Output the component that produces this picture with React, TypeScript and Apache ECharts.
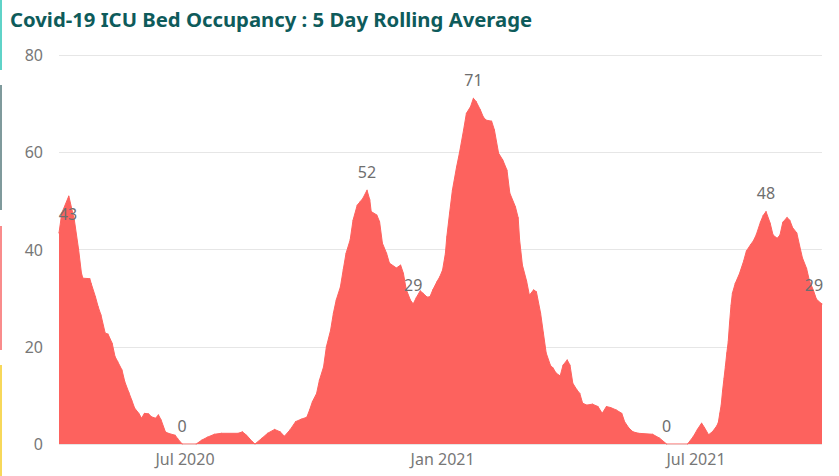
import React, { useEffect, useRef } from "react";
import * as echarts from "echarts";

// 5-day rolling average of ICU beds occupied by Covid-19 patients
const dates: string[] = [
  "2020-04-02", "2020-04-04", "2020-04-09", "2020-04-13", "2020-04-16", "2020-04-18", "2020-04-19",
  "2020-04-24", "2020-04-25", "2020-04-28", "2020-04-30", "2020-05-02", "2020-05-05", "2020-05-07",
  "2020-05-10", "2020-05-12", "2020-05-14", "2020-05-17", "2020-05-19", "2020-05-22", "2020-05-24",
  "2020-05-26", "2020-05-29", "2020-05-31", "2020-06-02", "2020-06-05", "2020-06-07", "2020-06-10",
  "2020-06-12", "2020-06-14", "2020-06-17", "2020-06-19", "2020-06-24", "2020-06-26", "2020-06-29",
  "2020-07-09", "2020-07-13", "2020-07-17", "2020-07-22", "2020-07-27", "2020-08-08", "2020-08-11",
  "2020-08-14", "2020-08-18", "2020-08-20", "2020-08-25", "2020-08-29", "2020-09-03", "2020-09-07",
  "2020-09-10", "2020-09-14", "2020-09-18", "2020-09-22", "2020-09-26", "2020-09-28", "2020-09-30",
  "2020-10-03", "2020-10-05", "2020-10-08", "2020-10-10", "2020-10-13", "2020-10-15", "2020-10-17",
  "2020-10-20", "2020-10-22", "2020-10-24", "2020-10-27", "2020-10-29", "2020-11-01", "2020-11-03",
  "2020-11-05", "2020-11-08", "2020-11-10", "2020-11-11", "2020-11-15", "2020-11-17", "2020-11-19",
  "2020-11-22", "2020-11-24", "2020-11-29", "2020-12-02", "2020-12-04", "2020-12-06", "2020-12-09",
  "2020-12-11", "2020-12-13", "2020-12-16", "2020-12-18", "2020-12-21", "2020-12-23", "2020-12-25",
  "2020-12-28", "2020-12-30", "2021-01-01", "2021-01-03", "2021-01-04", "2021-01-06", "2021-01-08",
  "2021-01-11", "2021-01-13", "2021-01-16", "2021-01-18", "2021-01-21", "2021-01-23", "2021-01-25",
  "2021-01-28", "2021-01-30", "2021-02-01", "2021-02-05", "2021-02-07", "2021-02-10", "2021-02-13",
  "2021-02-16", "2021-02-18", "2021-02-22", "2021-02-24", "2021-02-25", "2021-02-27", "2021-03-02",
  "2021-03-04", "2021-03-07", "2021-03-09", "2021-03-12", "2021-03-14", "2021-03-16", "2021-03-19",
  "2021-03-21", "2021-03-23", "2021-03-26", "2021-03-28", "2021-03-31", "2021-04-02", "2021-04-04",
  "2021-04-07", "2021-04-09", "2021-04-11", "2021-04-14", "2021-04-18", "2021-04-22", "2021-04-25",
  "2021-04-28", "2021-05-01", "2021-05-05", "2021-05-09", "2021-05-11", "2021-05-14", "2021-05-17",
  "2021-05-21", "2021-05-31", "2021-06-05", "2021-06-10", "2021-06-25", "2021-06-29", "2021-07-02",
  "2021-07-05", "2021-07-07", "2021-07-10", "2021-07-13", "2021-07-16", "2021-07-17", "2021-07-18",
  "2021-07-19", "2021-07-20", "2021-07-21", "2021-07-22", "2021-07-23", "2021-07-24", "2021-07-25",
  "2021-07-26", "2021-07-27", "2021-07-29", "2021-08-01", "2021-08-04", "2021-08-06", "2021-08-09",
  "2021-08-11", "2021-08-13", "2021-08-16", "2021-08-18", "2021-08-20", "2021-08-23", "2021-08-25",
  "2021-08-28", "2021-08-30", "2021-09-01", "2021-09-04", "2021-09-06", "2021-09-08", "2021-09-11",
  "2021-09-13", "2021-09-15", "2021-09-18", "2021-09-20", "2021-09-23", "2021-09-25", "2021-09-28",
  "2021-09-29",
];

const icuBeds: number[] = [
  43.4, 47.5, 51, 46, 40, 35.2, 34.1,
  34, 33, 30.3, 28.2, 26.5, 22.8, 22.6,
  20.7, 18, 16.9, 15.2, 12.8, 10.5, 9,
  7.4, 6.3, 5.3, 6.3, 6.2, 5.6, 5.3,
  6, 4.9, 2.5, 2.2, 1.8, 1.0, 0,
  0, 0.8, 1.4, 2, 2.2, 2.2, 2.5,
  1.8, 0.5, 0, 1.2, 2.2, 3, 2.5,
  1.6, 2.9, 4.6, 5.1, 5.5, 7, 8.7,
  10.4, 13.1, 15.9, 20, 23.4, 26.9, 29.6,
  32.3, 35.8, 39.2, 42, 46, 49.1, 49.8,
  50.5, 52.2, 50.2, 47.8, 47.1, 45.7, 41.3,
  39.2, 37.2, 36.2, 36.8, 35.1, 31.8, 29.6,
  28.8, 30, 31.5, 31, 30.2, 30.3, 31.7,
  33.4, 34.4, 35.8, 39.2, 42.6, 47.5, 52.2,
  57, 59.8, 64.6, 68, 69.4, 71.1, 70.4,
  68.7, 67.3, 66.6, 66.4, 64.6, 59.8, 58.4,
  56.3, 51.6, 48.8, 46.5, 42, 36.8, 33.5,
  30.6, 31.7, 31.3, 26.9, 22.8, 18.7, 16.2,
  15.6, 14.6, 14, 16.2, 17.3, 16.2, 12.5,
  11.1, 10.4, 8.4, 8, 8.2, 7.7, 6.3,
  7.7, 7.5, 7, 6.3, 4.6, 3.3, 2.5,
  2.2, 2, 1.2, 0, 0, 1.5, 3,
  4.3, 3.4, 1.9, 2.6, 3.8, 4.5, 6.3,
  8, 11, 13.5, 16, 18.7, 21, 25,
  28.5, 31, 33, 35, 37.6, 39.7, 41,
  41.8, 43, 45.6, 47, 47.8, 45.4, 43,
  42.3, 43, 45.6, 46.6, 46, 44.5, 43.4,
  40.8, 38.3, 36.1, 33.6, 31.5, 29.8, 29,
  28.8,
];

// Dates whose value is printed above the area
const labelledDates: string[] = [
  "2020-04-02", "2020-06-29", "2020-11-08", "2020-12-11",
  "2021-01-23", "2021-06-10", "2021-08-20", "2021-09-29",
];

// Month ticks shown on the date axis
const xTickDates: string[] = ["2020-07-01", "2021-01-01", "2021-07-01"];
const yTicks: number[] = [0, 20, 40, 60, 80];

const MONTHS = ["Jan", "Feb", "Mar", "Apr", "May", "Jun", "Jul", "Aug", "Sep", "Oct", "Nov", "Dec"];
const FONT = "'Noto Sans', 'Open Sans', sans-serif";
const AREA = "#FD625E";

function toTime(s: string): number {
  const [y, m, d] = s.split("-").map(Number);
  return new Date(y, m - 1, d).getTime();
}

export default function App() {
  const ref = useRef<HTMLDivElement>(null);

  useEffect(() => {
    if (!ref.current) return;
    const chart = echarts.init(ref.current, undefined, { renderer: "svg" });

    const lastIdx = dates.length - 1;
    const seriesData = dates.map((d, i) => {
      const item: any = { value: [toTime(d), icuBeds[i]] };
      if (labelledDates.includes(d)) {
        // keep the first and last labels inside the plot
        const offset = i === 0 ? [9, 0] : i === lastIdx ? [-8, 0] : [0, 0];
        item.label = { show: true, offset };
      }
      return item;
    });

    chart.setOption({
      animation: false,
      backgroundColor: "#ffffff",
      title: {
        text: "Covid-19 ICU Bed Occupancy : 5 Day Rolling Average",
        left: 5,
        top: 4,
        textStyle: {
          fontFamily: FONT,
          fontSize: 20.3,
          fontWeight: "bold",
          color: "#0E5B5B",
        },
      },
      graphic: [
        { type: "rect", shape: { x: 0, y: 0, width: 2, height: 70 }, style: { fill: "#5FD3C8" } },
        { type: "rect", shape: { x: 0, y: 85, width: 2, height: 125 }, style: { fill: "#7F9A9C" } },
        { type: "rect", shape: { x: 0, y: 226, width: 2, height: 124 }, style: { fill: "#F98C8C" } },
        { type: "rect", shape: { x: 0, y: 365, width: 2, height: 111 }, style: { fill: "#F7D85A" } },
      ],
      grid: { left: 59, right: 17, top: 55, bottom: 32, containLabel: false },
      xAxis: {
        type: "value",
        min: toTime(dates[0]),
        max: toTime(dates[lastIdx]),
        axisLine: { show: false },
        axisTick: { show: false },
        splitLine: { show: false },
        axisLabel: {
          customValues: xTickDates.map(toTime),
          hideOverlap: false,
          color: "#777777",
          fontFamily: FONT,
          fontSize: 16,
          margin: 7,
          formatter: (v: number) => {
            const d = new Date(v);
            return MONTHS[d.getMonth()] + " " + d.getFullYear();
          },
        },
      },
      yAxis: {
        type: "value",
        min: yTicks[0],
        max: yTicks[yTicks.length - 1],
        interval: 20,
        axisLine: { show: false },
        axisTick: { show: false },
        splitLine: { lineStyle: { color: "#E6E6E6", width: 1 } },
        axisLabel: {
          color: "#777777",
          fontFamily: FONT,
          fontSize: 16,
          margin: 16,
        },
      },
      series: [
        {
          type: "line",
          data: seriesData,
          showSymbol: true,
          showAllSymbol: true,
          symbol: "circle",
          symbolSize: 1,
          itemStyle: { color: AREA },
          lineStyle: { color: AREA, width: 1 },
          areaStyle: { color: AREA, opacity: 1 },
          label: {
            show: false,
            position: "top",
            distance: 10,
            color: "#6E6E6E",
            fontFamily: FONT,
            fontSize: 16,
            formatter: (p: any) => String(Math.round(p.value[1])),
          },
          silent: true,
        },
      ],
    });

    return () => chart.dispose();
  }, []);

  return (
    <div
      ref={ref}
      style={{ position: "fixed", left: 0, top: 0, width: 839, height: 476 }}
    />
  );
}
